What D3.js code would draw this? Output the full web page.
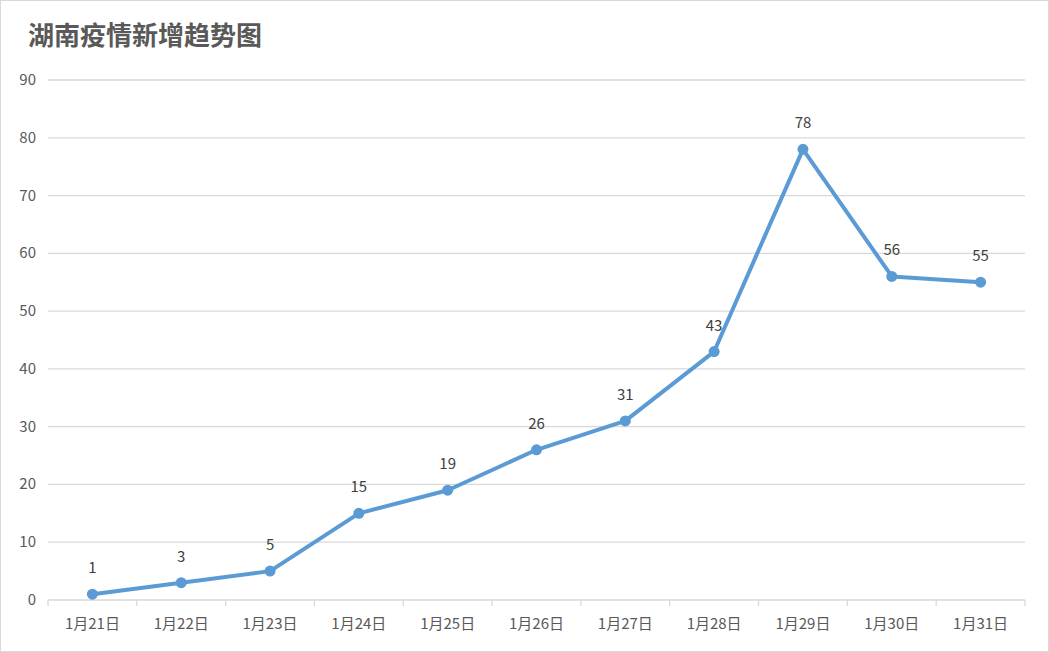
<!DOCTYPE html>
<html><head><meta charset="utf-8">
<script src="https://cdn.jsdelivr.net/npm/d3@7"></script>
<style>body{margin:0;background:#fff}</style>
</head><body><div id="chart"></div>
<script>
var w = 1049, h = 652;
var categories = ["1月21日","1月22日","1月23日","1月24日","1月25日","1月26日","1月27日","1月28日","1月29日","1月30日","1月31日"];
var values = [1,3,5,15,19,26,31,43,78,56,55];
var yTicks = [0,10,20,30,40,50,60,70,80,90];

var plotLeft = 48, plotRight = 1025, plotTop = 80, plotBottom = 600;
var font = "'Microsoft YaHei','Noto Sans CJK SC',sans-serif";

var svg = d3.select("#chart").append("svg").attr("width", w).attr("height", h);
svg.append("rect").attr("x",0.5).attr("y",0.5).attr("width",w-1).attr("height",h-1)
   .attr("fill","#fff").attr("stroke","#d9d9d9");

svg.append("text").text("湖南疫情新增趋势图").attr("x",28).attr("y",45)
   .attr("font-family",font).attr("font-size",26).attr("font-weight","bold").attr("fill","#595959");

var x = d3.scaleBand().domain(categories).range([plotLeft,plotRight]);
var y = d3.scaleLinear().domain([0,90]).range([plotBottom,plotTop]);

svg.selectAll(".grid").data(yTicks).enter().append("line")
   .attr("x1",plotLeft).attr("x2",plotRight).attr("y1",d=>y(d)).attr("y2",d=>y(d))
   .attr("stroke","#d9d9d9").attr("stroke-width",1.3);

svg.selectAll(".yl").data(yTicks).enter().append("text").text(d=>d)
   .attr("x",36).attr("y",d=>y(d)+5).attr("text-anchor","end")
   .attr("font-family",font).attr("font-size",15).attr("fill","#595959");

var xb = categories.map(c=>x(c)).concat([plotRight]);
svg.selectAll(".xt").data(xb).enter().append("line")
   .attr("x1",d=>d).attr("x2",d=>d).attr("y1",plotBottom).attr("y2",plotBottom+6)
   .attr("stroke","#d9d9d9").attr("stroke-width",1.3);

svg.selectAll(".xl").data(categories).enter().append("text").text(d=>d)
   .attr("x",d=>x(d)+x.bandwidth()/2).attr("y",629).attr("text-anchor","middle")
   .attr("font-family",font).attr("font-size",15).attr("fill","#595959");

var cx = (d,i)=>x(categories[i])+x.bandwidth()/2;
svg.append("path").datum(values)
   .attr("d", d3.line().x(cx).y(d=>y(d)))
   .attr("fill","none").attr("stroke","#5B9BD5").attr("stroke-width",4).attr("stroke-linejoin","round");

svg.selectAll(".pt").data(values).enter().append("circle")
   .attr("cx",cx).attr("cy",d=>y(d)).attr("r",5.5).attr("fill","#5B9BD5");

svg.selectAll(".lab").data(values).enter().append("text").text(d=>d)
   .attr("x",cx).attr("y",d=>y(d)-21).attr("text-anchor","middle")
   .attr("font-family",font).attr("font-size",15).attr("fill","#404040");
</script></body></html>
